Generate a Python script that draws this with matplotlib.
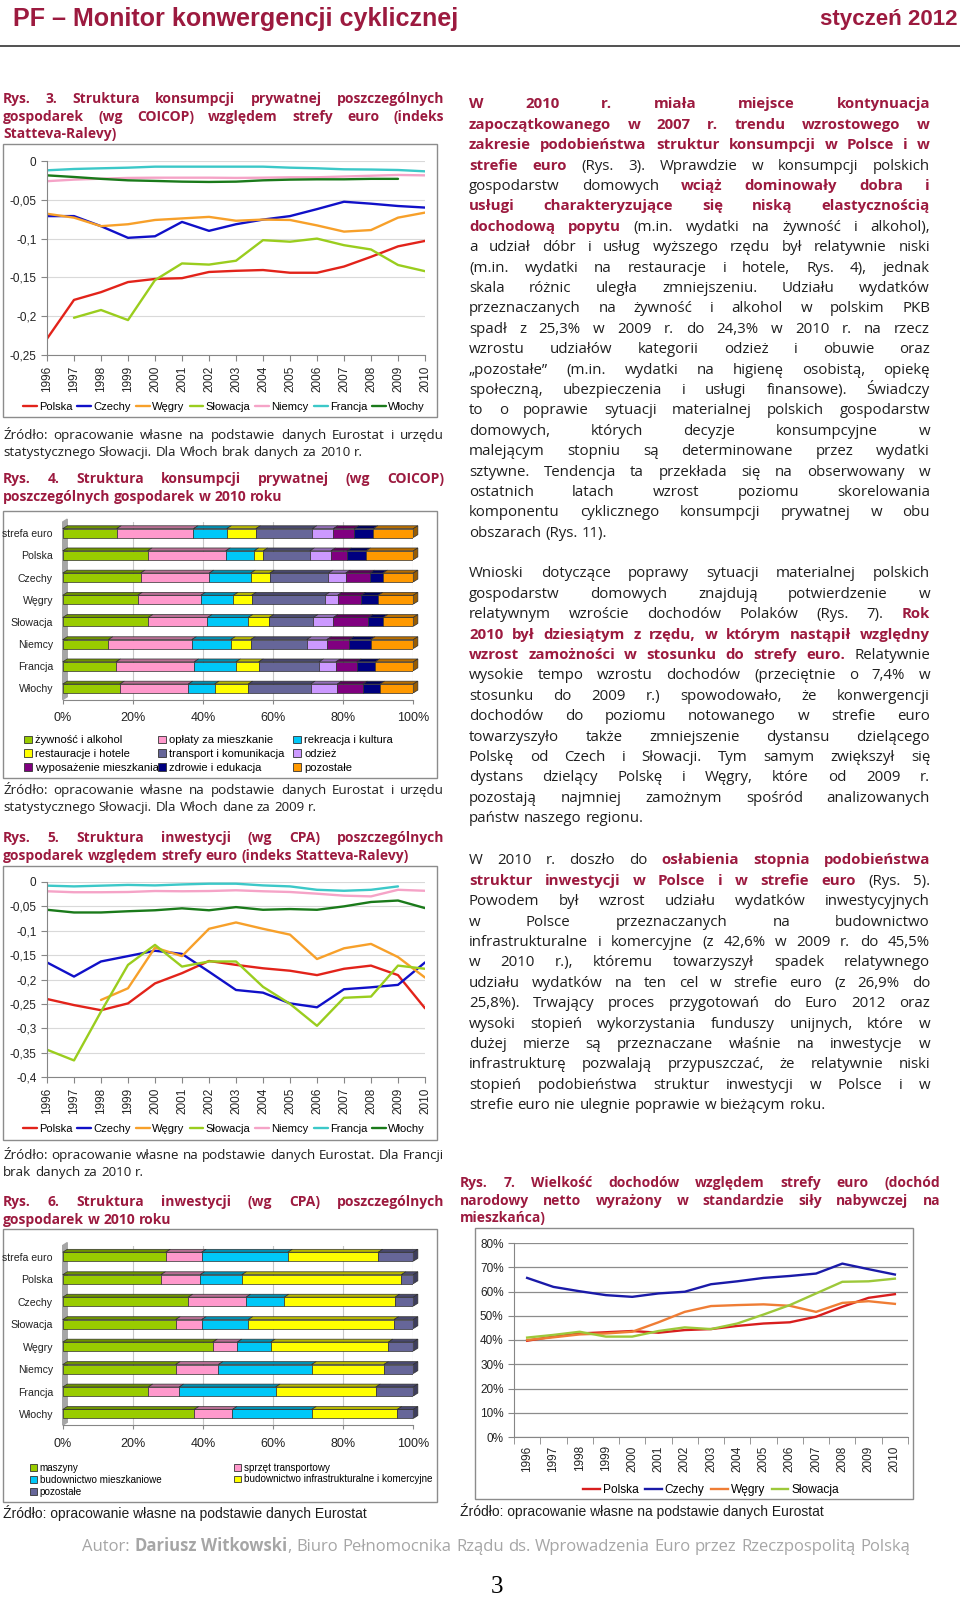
import numpy as np
import matplotlib
matplotlib.use('Agg')
import matplotlib.pyplot as plt
import matplotlib.colors as mcolors
from matplotlib.patches import Rectangle, Patch
from matplotlib.legend import Legend

W, H = 960, 1599
BODY = ['Open Sans', 'DejaVu Sans']
ARIAL = ['Liberation Sans', 'DejaVu Sans']
NARROW = ['Liberation Sans Narrow', 'Liberation Sans', 'DejaVu Sans']
RED = '#9c1a3f'
INK = '#1e1e1e'
nan = np.nan

# ---- data -------------------------------------------------------------
years = list(range(1996, 2011))
year_labels = [str(y) for y in years]
countries7 = ['Polska', 'Czechy', 'Węgry', 'Słowacja', 'Niemcy', 'Francja', 'Włochy']
colors7 = ['#e2231a', '#1010c8', '#f7a02a', '#9acd1e', '#f5a3c7', '#3cc8c8', '#1a7a1a']

# Rys. 3 - indeks Statteva-Ralevy, konsumpcja
pl_3 = [-0.229, -0.179, -0.169, -0.156, -0.152, -0.151, -0.143, -0.1415, -0.1405, -0.144, -0.144, -0.136, -0.1235, -0.110, -0.103]
cz_3 = [-0.071, -0.071, -0.084, -0.099, -0.097, -0.0785, -0.090, -0.0815, -0.0755, -0.071, -0.062, -0.0525, -0.055, -0.058, -0.060]
hu_3 = [-0.068, -0.073, -0.084, -0.0815, -0.076, -0.074, -0.072, -0.077, -0.0755, -0.076, -0.083, -0.091, -0.089, -0.073, -0.0665]
sk_3 = [nan, -0.202, -0.192, -0.205, -0.1535, -0.132, -0.1335, -0.1285, -0.102, -0.104, -0.100, -0.1085, -0.114, -0.134, -0.142]
de_3 = [-0.026, -0.024, -0.0228, -0.0218, -0.0215, -0.0215, -0.0215, -0.0218, -0.0215, -0.021, -0.021, -0.020, -0.019, -0.018, -0.0185]
fr_3 = [-0.012, -0.0103, -0.0094, -0.0086, -0.0073, -0.0073, -0.0073, -0.0073, -0.0073, -0.0086, -0.0094, -0.0107, -0.011, -0.0116, -0.0133]
it_3 = [-0.0185, -0.0206, -0.023, -0.0249, -0.0257, -0.0266, -0.027, -0.0266, -0.0249, -0.024, -0.0236, -0.0236, -0.023, -0.023, nan]
yticks_3 = [0, -0.05, -0.1, -0.15, -0.2, -0.25]
ylabels_3 = ['0', '-0,05', '-0,1', '-0,15', '-0,2', '-0,25']

# Rys. 5 - indeks Statteva-Ralevy, inwestycje
pl_5 = [-0.240, -0.2525, -0.263, -0.249, -0.208, -0.187, -0.162, -0.170, -0.177, -0.182, -0.191, -0.178, -0.1715, -0.191, -0.259]
cz_5 = [-0.165, -0.194, -0.163, -0.152, -0.141, -0.1475, -0.184, -0.2215, -0.227, -0.249, -0.257, -0.220, -0.216, -0.211, -0.165]
hu_5 = [nan, nan, -0.242, -0.218, -0.1345, -0.152, -0.096, -0.083, -0.096, -0.108, -0.158, -0.136, -0.127, -0.154, -0.196]
sk_5 = [-0.344, -0.366, -0.266, -0.170, -0.129, -0.1735, -0.163, -0.163, -0.215, -0.250, -0.295, -0.2375, -0.235, -0.1715, -0.178]
de_5 = [-0.019, -0.021, -0.021, -0.0205, -0.0185, -0.019, -0.0185, -0.017, -0.019, -0.0205, -0.024, -0.028, -0.0295, -0.016, -0.018]
fr_5 = [-0.0075, -0.009, -0.0075, -0.006, -0.007, -0.005, -0.0035, -0.0035, -0.007, -0.009, -0.016, -0.018, -0.016, -0.009, nan]
it_5 = [-0.057, -0.0625, -0.0625, -0.060, -0.058, -0.054, -0.058, -0.0515, -0.057, -0.0555, -0.057, -0.050, -0.041, -0.038, -0.0535]
yticks_5 = [0, -0.05, -0.1, -0.15, -0.2, -0.25, -0.3, -0.35, -0.4]
ylabels_5 = ['0', '-0,05', '-0,1', '-0,15', '-0,2', '-0,25', '-0,3', '-0,35', '-0,4']

# Rys. 4 - struktura konsumpcji 2010 (%)
cats_4 = ['strefa euro', 'Polska', 'Czechy', 'Węgry', 'Słowacja', 'Niemcy', 'Francja', 'Włochy']
food = [15.4, 24.2, 22.2, 21.4, 24.4, 13.0, 15.2, 16.3]
housing = [21.9, 22.3, 19.6, 18.0, 16.9, 23.8, 22.3, 19.5]
recreation = [9.5, 8.1, 11.8, 9.3, 11.6, 11.1, 11.9, 7.5]
restaurants = [8.3, 2.6, 5.5, 5.2, 6.0, 5.7, 6.5, 9.6]
transport = [16.1, 13.3, 16.7, 20.9, 12.6, 16.0, 17.2, 17.8]
clothing = [6.0, 6.0, 4.9, 3.6, 5.7, 5.7, 4.8, 7.6]
furnishing = [5.9, 4.5, 6.9, 6.7, 10.0, 6.4, 5.9, 7.3]
health = [5.5, 5.5, 3.7, 4.9, 4.2, 6.1, 5.3, 4.9]
other_4 = [11.4, 13.5, 8.7, 10.0, 8.6, 12.2, 10.9, 9.5]
names_4 = ['żywność i alkohol', 'opłaty za mieszkanie', 'rekreacja i kultura',
           'restauracje i hotele', 'transport i komunikacja', 'odzież',
           'wyposażenie mieszkania', 'zdrowie i edukacja', 'pozostałe']
colors_4 = ['#99cc00', '#ff99cc', '#00c8f8', '#ffff00', '#666699', '#cc99ff',
            '#800080', '#000080', '#ff9900']

# Rys. 6 - struktura inwestycji 2010 (%)
cats_6 = ['strefa euro', 'Polska', 'Czechy', 'Słowacja', 'Węgry', 'Niemcy', 'Francja', 'Włochy']
machines = [29.4, 28.0, 35.8, 32.2, 42.8, 32.2, 24.4, 37.5]
transport_eq = [10.2, 11.2, 16.5, 7.4, 7.0, 12.2, 8.8, 10.9]
residential = [24.6, 11.9, 10.9, 13.3, 9.5, 26.6, 27.5, 22.6]
infra = [25.8, 45.5, 31.6, 41.6, 33.6, 20.6, 28.6, 24.4]
other_6 = [10.0, 3.4, 5.2, 5.5, 7.1, 8.4, 10.7, 4.6]
names_6 = ['maszyny', 'sprzęt transportowy', 'budownictwo mieszkaniowe',
           'budownictwo infrastrukturalne i komercyjne', 'pozostałe']
colors_6 = ['#99cc00', '#ff99cc', '#00c8f8', '#ffff00', '#666699']
pct_ticks = [0, 20, 40, 60, 80, 100]
pct_labels = ['0%', '20%', '40%', '60%', '80%', '100%']

# Rys. 7 - dochód narodowy netto PPS względem strefy euro (%)
countries4 = ['Polska', 'Czechy', 'Węgry', 'Słowacja']
colors_7 = ['#d81e1e', '#1a1aa8', '#ef7d35', '#9dc83a']
pl_7 = [39.7, 41.4, 42.7, 43.2, 43.7, 43.0, 44.1, 44.5, 45.8, 46.8, 47.3, 49.6, 53.7, 57.4, 58.9]
cz_7 = [65.6, 61.9, 60.1, 58.5, 57.8, 59.2, 59.9, 63.0, 64.2, 65.6, 66.4, 67.4, 71.5, 69.2, 67.0]
hu_7 = [40.0, 41.1, 42.3, 42.7, 43.4, 47.3, 51.6, 54.0, 54.4, 54.7, 54.1, 51.6, 55.3, 56.0, 54.9]
sk_7 = [41.0, 42.1, 43.4, 41.4, 41.4, 43.7, 45.2, 44.5, 46.8, 50.5, 54.4, 59.2, 64.0, 64.2, 65.3]
yticks_7 = [0, 10, 20, 30, 40, 50, 60, 70, 80]
ylabels_7 = ['0%', '10%', '20%', '30%', '40%', '50%', '60%', '70%', '80%']

# ---- text -------------------------------------------------------------
para_1 = [
    "*W 2010 r. miała miejsce kontynuacja*",
    "*zapoczątkowanego w 2007 r. trendu wzrostowego w*",
    "*zakresie podobieństwa struktur konsumpcji w Polsce i w*",
    "*strefie euro* (Rys. 3). Wprawdzie w konsumpcji polskich",
    "gospodarstw domowych *wciąż dominowały dobra i*",
    "*usługi charakteryzujące się niską elastycznością*",
    "*dochodową popytu* (m.in. wydatki na żywność i alkohol),",
    "a udział dóbr i usług wyższego rzędu był relatywnie niski",
    "(m.in. wydatki na restauracje i hotele, Rys. 4), jednak",
    "skala różnic uległa zmniejszeniu. Udziału wydatków",
    "przeznaczanych na żywność i alkohol w polskim PKB",
    "spadł z 25,3% w 2009 r. do 24,3% w 2010 r. na rzecz",
    "wzrostu udziałów kategorii odzież i obuwie oraz",
    "„pozostałe” (m.in. wydatki na higienę osobistą, opiekę",
    "społeczną, ubezpieczenia i usługi finansowe). Świadczy",
    "to o poprawie sytuacji materialnej polskich gospodarstw",
    "domowych, których decyzje konsumpcyjne w",
    "malejącym stopniu są determinowane przez wydatki",
    "sztywne. Tendencja ta przekłada się na obserwowany w",
    "ostatnich latach wzrost poziomu skorelowania",
    "komponentu cyklicznego konsumpcji prywatnej w obu",
    "obszarach (Rys. 11).",
]
para_2 = [
    "Wnioski dotyczące poprawy sytuacji materialnej polskich",
    "gospodarstw domowych znajdują potwierdzenie w",
    "relatywnym wzroście dochodów Polaków (Rys. 7). *Rok*",
    "*2010 był dziesiątym z rzędu, w którym nastąpił względny*",
    "*wzrost zamożności w stosunku do strefy euro.* Relatywnie",
    "wysokie tempo wzrostu dochodów (przeciętnie o 7,4% w",
    "stosunku do 2009 r.) spowodowało, że konwergencji",
    "dochodów do poziomu notowanego w strefie euro",
    "towarzyszyło także zmniejszenie dystansu dzielącego",
    "Polskę od Czech i Słowacji. Tym samym zwiększył się",
    "dystans dzielący Polskę i Węgry, które od 2009 r.",
    "pozostają najmniej zamożnym spośród analizowanych",
    "państw naszego regionu.",
]
para_3 = [
    "W 2010 r. doszło do *osłabienia stopnia podobieństwa*",
    "*struktur inwestycji w Polsce i w strefie euro* (Rys. 5).",
    "Powodem był wzrost udziału wydatków inwestycyjnych",
    "w Polsce przeznaczanych na budownictwo",
    "infrastrukturalne i komercyjne (z 42,6% w 2009 r. do 45,5%",
    "w 2010 r.), któremu towarzyszył spadek relatywnego",
    "udziału wydatków na ten cel w strefie euro (z 26,9% do",
    "25,8%). Trwający proces przygotowań do Euro 2012 oraz",
    "wysoki stopień wykorzystania funduszy unijnych, które w",
    "dużej mierze są przeznaczane właśnie na inwestycje w",
    "infrastrukturę pozwalają przypuszczać, że relatywnie niski",
    "stopień podobieństwa struktur inwestycji w Polsce i w",
    "strefie euro nie ulegnie poprawie w bieżącym roku.",
]
title_3 = ["Rys. 3. Struktura konsumpcji prywatnej poszczególnych",
           "gospodarek (wg COICOP) względem strefy euro (indeks",
           "Statteva-Ralevy)"]
title_4 = ["Rys. 4. Struktura konsumpcji prywatnej (wg COICOP)",
           "poszczególnych gospodarek w 2010 roku"]
title_5 = ["Rys. 5. Struktura inwestycji (wg CPA) poszczególnych",
           "gospodarek względem strefy euro (indeks Statteva-Ralevy)"]
title_6 = ["Rys. 6. Struktura inwestycji (wg CPA) poszczególnych",
           "gospodarek w 2010 roku"]
title_7 = ["Rys. 7. Wielkość dochodów względem strefy euro (dochód",
           "narodowy netto wyrażony w standardzie siły nabywczej na",
           "mieszkańca)"]
source_3 = ["Źródło: opracowanie własne na podstawie danych Eurostat i urzędu",
            "statystycznego Słowacji. Dla Włoch brak danych za 2010 r."]
source_4 = ["Źródło: opracowanie własne na podstawie danych Eurostat i urzędu",
            "statystycznego Słowacji. Dla Włoch dane za 2009 r."]
source_5 = ["Źródło: opracowanie własne na podstawie danych Eurostat. Dla Francji",
            "brak danych za 2010 r."]
source_eurostat = "Źródło: opracowanie własne na podstawie danych Eurostat"
footer = ("Autor: *Dariusz Witkowski*, Biuro Pełnomocnika Rządu ds. "
          "Wprowadzenia Euro przez Rzeczpospolitą Polską")

# ---- page -------------------------------------------------------------
fig = plt.figure(figsize=(W / 100, H / 100), dpi=100)
page = fig.add_axes([0, 0, 1, 1])
page.set_xlim(0, W)
page.set_ylim(H, 0)
page.axis('off')
renderer = fig.canvas.get_renderer()


def px(pt):
    return pt * 100 / 72


def parse(markup):
    parts = []
    for i, seg in enumerate(markup.split('*')):
        if seg:
            parts.append((seg, i % 2 == 1))
    return parts


def put_line(x0, x1, yc, markup, size, mode='justify', family=BODY,
             ncolor=INK, bcolor=RED):
    # words as (text, bold, glued to previous word)
    words = []
    prev_space = True
    for seg, bold in parse(markup):
        toks = seg.split()
        for j, w in enumerate(toks):
            glued = j == 0 and bool(words) and not prev_space and not seg[0].isspace()
            words.append((w, bold, glued))
        prev_space = seg[-1].isspace()
    base = yc + 0.36 * px(size)
    arts = [page.text(0, base, w, fontsize=size, family=family,
                      fontweight='bold' if b else 'normal',
                      color=bcolor if b else ncolor, va='baseline', ha='left')
            for w, b, g in words]
    n_gaps = sum(1 for w in words[1:] if not w[2])
    while True:
        widths = [a.get_window_extent(renderer).width for a in arts]
        gap = 0.27 * px(size)
        if mode != 'justify' or size < 6 or \
                sum(widths) + 0.6 * gap * n_gaps <= x1 - x0:
            break
        size *= 0.97
        for a in arts:
            a.set_fontsize(size)
    total = sum(widths) + gap * n_gaps
    if mode == 'justify' and n_gaps > 0:
        gap = (x1 - x0 - sum(widths)) / n_gaps
        x = x0
    elif mode == 'center':
        x = (x0 + x1) / 2 - total / 2
    else:
        x = x0
    for i, (a, w) in enumerate(zip(arts, widths)):
        if i > 0 and not words[i][2]:
            x += gap
        a.set_x(x)
        x += w


def put_block(x0, x1, y0, step, lines, size, last_left=True, **kw):
    for i, ln in enumerate(lines):
        mode = 'left' if (last_left and i == len(lines) - 1) else 'justify'
        put_line(x0, x1, y0 + i * step, ln, size, mode=mode, **kw)


def fit_text(x, y, s, width, ha='left', **kw):
    t = page.text(x, y, s, fontsize=20, va='center', ha=ha, **kw)
    w = t.get_window_extent(renderer).width
    t.set_fontsize(20 * width / w)


def box(x0, y0, x1, y1):
    page.add_patch(Rectangle((x0, y0), x1 - x0, y1 - y0, facecolor='white',
                             edgecolor='#8c8c8c', lw=1.0, zorder=1))


def px_axes(x0, y0, x1, y1):
    ax = fig.add_axes([x0 / W, 1 - y1 / H, (x1 - x0) / W, (y1 - y0) / H])
    ax.set_facecolor('none')
    return ax


# header
fit_text(13, 19, 'PF – Monitor konwergencji cyklicznej', 445, family=NARROW,
         fontweight='bold', color=RED)
fit_text(957, 19, 'styczeń 2012', 138, ha='right', family=NARROW,
         fontweight='bold', color=RED)
page.plot([0, W], [46, 46], color='#333333', lw=1.2)

# left column titles & sources
LX0, LX1 = 3, 444
put_block(LX0, LX1, 98, 17.7, [f"*{t}*" for t in title_3], 10)
put_block(LX0, LX1, 434, 17.0, source_3, 9.6)
put_block(LX0, LX1, 478, 17.7, [f"*{t}*" for t in title_4], 10)
put_block(LX0, LX1, 789, 17.0, source_4, 9.6)
put_block(LX0, LX1, 837, 17.7, [f"*{t}*" for t in title_5], 10)
put_block(LX0, LX1, 1154, 17.0, source_5, 9.6)
put_block(LX0, LX1, 1201, 17.7, [f"*{t}*" for t in title_6], 10)
page.text(LX0, 1513, source_eurostat, family=ARIAL, fontsize=10, color=INK, va='center')

# right column text
RX0, RX1 = 469, 930
put_block(RX0, RX1, 103, 20.4, para_1, 10.8)
put_block(RX0, RX1, 572, 20.4, para_2, 10.8)
put_block(RX0, RX1, 859, 20.4, para_3, 10.8)
put_block(460, 940, 1182, 17.7, [f"*{t}*" for t in title_7], 10)
page.text(460, 1511, source_eurostat, family=ARIAL, fontsize=10, color=INK, va='center')

# footer
put_line(40, 952, 1545, footer, 12, mode='center', ncolor='#a6a6a6', bcolor='#a6a6a6')
page.text(497, 1587, '3', family=['Liberation Serif', 'DejaVu Serif'], fontsize=18,
          color='black', ha='center', va='center')


# ---- line charts (Rys. 3, Rys. 5) -------------------------------------
def line_chart(ax, series, yticks, ylabels, legend_xy):
    for vals, col, name in zip(series, colors7, countries7):
        ax.plot(years, vals, color=col, lw=1.7, label=name, solid_capstyle='round')
    ax.set_xlim(years[0], years[-1])
    ax.set_ylim(yticks[-1], yticks[0])
    ax.set_yticks(yticks, ylabels)
    ax.set_xticks(years, year_labels, rotation=90)
    ax.yaxis.grid(True, color='#d9d9d9', lw=0.8)
    ax.set_axisbelow(True)
    for s in ('top', 'right'):
        ax.spines[s].set_visible(False)
    for s in ('left', 'bottom'):
        ax.spines[s].set_color('#868686')
    ax.tick_params(length=4, color='#868686', labelsize=8.5, labelcolor='#222222')
    for lab in ax.get_xticklabels() + ax.get_yticklabels():
        lab.set_family(ARIAL)
    ax.legend(loc='center', bbox_to_anchor=(legend_xy[0] / W, 1 - legend_xy[1] / H),
              bbox_transform=fig.transFigure, ncol=7, frameon=False,
              prop={'family': ARIAL, 'size': 8}, handlelength=1.25,
              handletextpad=0.2, columnspacing=0.45, borderpad=0, borderaxespad=0)


box(3, 144, 437, 417)
ax3 = px_axes(47, 161, 425, 355)
line_chart(ax3, [pl_3, cz_3, hu_3, sk_3, de_3, fr_3, it_3], yticks_3, ylabels_3, (224, 407))

box(3, 866, 437, 1140)
ax5 = px_axes(47, 882, 425, 1077)
line_chart(ax5, [pl_5, cz_5, hu_5, sk_5, de_5, fr_5, it_5], yticks_5, ylabels_5, (224, 1129))


# ---- stacked 3D-like bar charts (Rys. 4, Rys. 6) ----------------------
DX, DY, BH = 1.3, 0.13, 0.40


def bar_chart(ax, cats, shares, cols):
    y = np.arange(len(cats))
    ax.fill([0, 0, DX, DX], [len(cats) - 0.5, -0.5, -0.5 - DY, len(cats) - 0.5 - DY],
            color='#a6a6a6', zorder=2, clip_on=False)
    left = np.zeros(len(cats))
    for vals, col in zip(shares, cols):
        vals = np.array(vals, dtype=float)
        ax.barh(y, vals, left=left, height=BH, color=col, edgecolor='#303030',
                lw=0.5, zorder=3)
        dark = tuple(np.array(mcolors.to_rgb(col)) * 0.72)
        for yi, l, v in zip(y, left, vals):
            top = yi - BH / 2
            ax.fill([l, l + DX, l + v + DX, l + v], [top, top - DY, top - DY, top],
                    facecolor=dark, edgecolor='#303030', lw=0.5, zorder=3, clip_on=False)
        left = left + vals
    dark = tuple(np.array(mcolors.to_rgb(cols[-1])) * 0.6)
    for yi, l in zip(y, left):
        top, bot = yi - BH / 2, yi + BH / 2
        ax.fill([l, l + DX, l + DX, l], [top, top - DY, bot - DY, bot],
                facecolor=dark, edgecolor='#303030', lw=0.5, zorder=3, clip_on=False)
    ax.set_xlim(0, 100)
    ax.set_ylim(len(cats) - 0.5, -0.5)
    ax.set_yticks(y, cats)
    ax.set_xticks(pct_ticks, pct_labels)
    ax.xaxis.grid(True, color='#c8c8c8', lw=0.8)
    ax.set_axisbelow(True)
    for s in ('top', 'right', 'left'):
        ax.spines[s].set_visible(False)
    ax.spines['bottom'].set_color('#868686')
    ax.tick_params(axis='y', length=0, pad=7, labelsize=7.6, labelcolor='#222222')
    ax.tick_params(axis='x', length=3, color='#868686', pad=6, labelsize=9,
                   labelcolor='#222222')
    for lab in ax.get_xticklabels() + ax.get_yticklabels():
        lab.set_family(ARIAL)


def column_legend(ax, idx, names, cols, x, yc, size, spacing):
    handles = [Patch(facecolor=cols[i], edgecolor='#333333', lw=0.6) for i in idx]
    lg = Legend(ax, handles, [names[i] for i in idx], loc='center left',
                bbox_to_anchor=(x / W, 1 - yc / H), bbox_transform=fig.transFigure,
                frameon=False, prop={'family': ARIAL, 'size': size},
                handlelength=0.7, handleheight=0.7, handletextpad=0.3,
                labelspacing=spacing, borderpad=0, borderaxespad=0)
    ax.add_artist(lg)


box(3, 511, 437, 778)
ax4 = px_axes(62.7, 522, 413.3, 699.6)
bar_chart(ax4, cats_4, [food, housing, recreation, restaurants, transport, clothing,
                        furnishing, health, other_4], colors_4)
column_legend(ax4, [0, 3, 6], names_4, colors_4, 24, 754, 8.0, 0.32)
column_legend(ax4, [1, 4, 7], names_4, colors_4, 158, 754, 8.0, 0.32)
column_legend(ax4, [2, 5, 8], names_4, colors_4, 293, 754, 8.0, 0.32)

box(3, 1229, 437, 1502)
ax6 = px_axes(62.7, 1245.5, 413.3, 1425.2)
bar_chart(ax6, cats_6, [machines, transport_eq, residential, infra, other_6], colors_6)
column_legend(ax6, [0, 2, 4], names_6, colors_6, 30, 1480, 7.1, 0.2)
column_legend(ax6, [1, 3], names_6, colors_6, 234, 1473.5, 7.1, 0.2)

# ---- Rys. 7 ------------------------------------------------------------
box(475, 1228, 913, 1499)
ax7 = px_axes(514, 1243, 908, 1437)
for vals, col, name in zip([pl_7, cz_7, hu_7, sk_7], colors_7, countries4):
    ax7.plot(years, vals, color=col, lw=1.7, label=name)
ax7.set_xlim(years[0] - 0.5, years[-1] + 0.5)
ax7.set_ylim(0, 80)
ax7.set_yticks(yticks_7, ylabels_7)
ax7.set_xticks(years, year_labels, rotation=90)
ax7.set_xticks([y + 0.5 for y in [years[0] - 1] + years], minor=True)
ax7.tick_params(axis='x', which='major', length=0, pad=6)
ax7.tick_params(axis='x', which='minor', length=5, color='#868686')
ax7.tick_params(axis='y', length=4, color='#868686')
ax7.tick_params(labelsize=8.5, labelcolor='#222222')
ax7.yaxis.grid(True, color='#8c8c8c', lw=0.9)
ax7.set_axisbelow(True)
for s in ('top', 'right'):
    ax7.spines[s].set_visible(False)
for s in ('left', 'bottom'):
    ax7.spines[s].set_color('#868686')
for lab in ax7.get_xticklabels() + ax7.get_yticklabels():
    lab.set_family(ARIAL)
ax7.legend(loc='center', bbox_to_anchor=(711 / W, 1 - 1490 / H),
           bbox_transform=fig.transFigure, ncol=4, frameon=False,
           prop={'family': ARIAL, 'size': 8.6}, handlelength=1.4,
           handletextpad=0.25, columnspacing=0.55, borderpad=0, borderaxespad=0)

fig.savefig('out.png', dpi=100)
